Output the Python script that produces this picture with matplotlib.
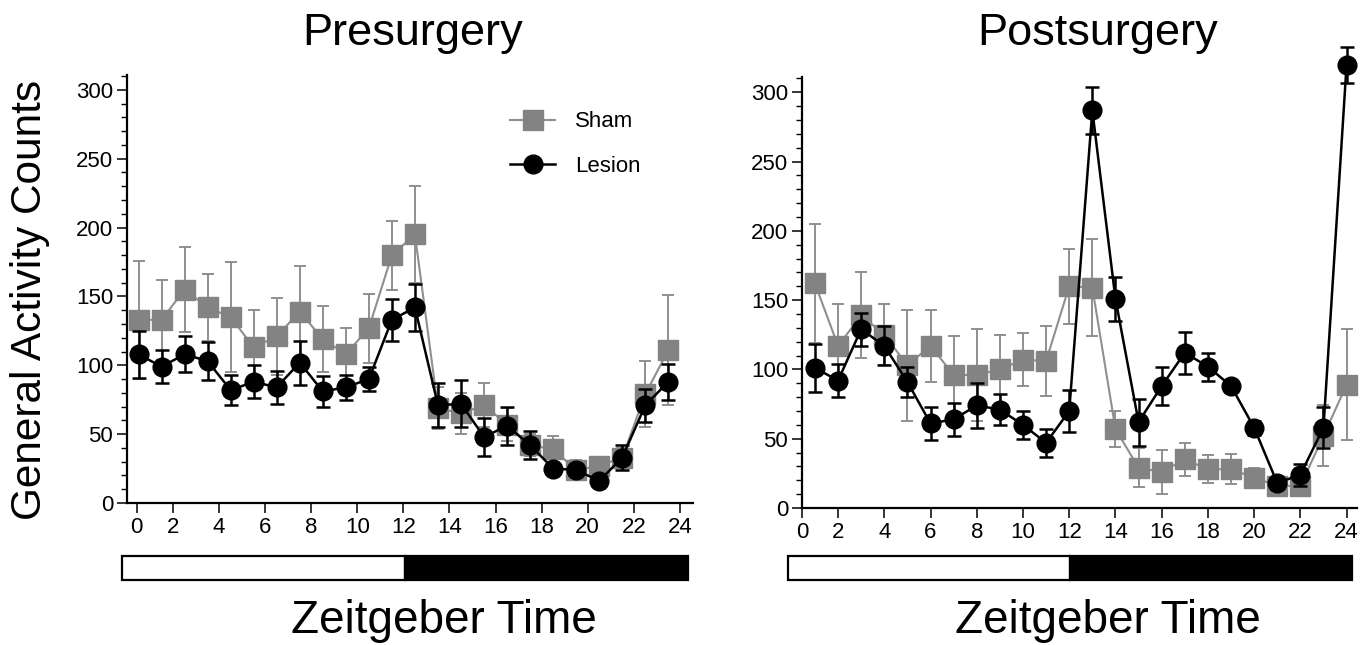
import numpy as np
import matplotlib
matplotlib.use('Agg')
import matplotlib.pyplot as plt
from matplotlib.ticker import MultipleLocator

plt.rcParams['font.family'] = ['Liberation Sans', 'DejaVu Sans']

# hours of recording (pre: half-hour bins centred, post: whole hours)
pre_hours = np.arange(24) + 0.5
post_hours = np.arange(1, 25)

pre_sham = [133, 133, 155, 142, 135, 113, 121, 139, 119, 108, 127, 180,
            195, 69, 65, 71, 57, 42, 39, 24, 27, 33, 79, 111]
pre_sham_err = [43, 29, 31, 24, 40, 27, 28, 33, 24, 19, 25, 25,
                35, 15, 15, 16, 12, 8, 10, 7, 5, 7, 24, 40]
pre_lesion = [108, 99, 108, 103, 82, 88, 84, 102, 81, 84, 90, 133,
              142, 71, 72, 48, 56, 42, 25, 24, 16, 33, 71, 88]
pre_lesion_err = [17, 12, 13, 14, 11, 12, 12, 16, 11, 9, 9, 15,
                  17, 16, 17, 14, 14, 10, 3, 4, 3, 9, 12, 13]

post_sham = [162, 117, 139, 125, 103, 117, 96, 96, 100, 107, 106, 160,
             159, 57, 29, 26, 35, 28, 28, 22, 16, 16, 52, 89]
post_sham_err = [43, 30, 31, 22, 40, 26, 28, 33, 25, 19, 25, 27,
                 35, 13, 14, 16, 12, 10, 11, 7, 4, 6, 22, 40]
post_lesion = [101, 92, 129, 117, 91, 61, 64, 74, 71, 60, 47, 70,
               287, 151, 62, 88, 112, 102, 88, 58, 18, 24, 58, 320]
post_lesion_err = [17, 12, 12, 14, 11, 12, 12, 16, 11, 10, 10, 15,
                   17, 16, 17, 14, 15, 10, 4, 5, 3, 8, 15, 13]

tick_hours = [0, 2, 4, 6, 8, 10, 12, 14, 16, 18, 20, 22, 24]
phase_start = [0, 12]
phase_color = ['white', 'black']

W, H = 1369, 645
fig = plt.figure(figsize=(W / 100, H / 100), dpi=100)

GRAY = '#838383'
GRAY_L = '#8f8f8f'


def px(x0, y0, x1, y1):
    return [x0 / W, 1 - y1 / H, (x1 - x0) / W, (y1 - y0) / H]


def unclip(container):
    for art in container.get_children():
        art.set_clip_on(False)


def panel(rect, hours, sham, sham_err, lesion, lesion_err, xlim, zero_pos, ylim):
    ax = fig.add_axes(rect)
    eb_s = ax.errorbar(hours, sham, yerr=sham_err, color=GRAY_L, ecolor=GRAY_L, lw=1.5,
                       elinewidth=1.4, capsize=4, capthick=1.4, marker='s', ms=14,
                       mfc=GRAY, mec=GRAY, label='Sham', zorder=2)
    eb_l = ax.errorbar(hours, lesion, yerr=lesion_err, color='black', ecolor='black', lw=1.8,
                       elinewidth=1.8, capsize=5, capthick=1.8, marker='o', ms=13.5,
                       mfc='black', mec='black', label='Lesion', zorder=3)
    unclip(eb_s)
    unclip(eb_l)
    ax.set_xlim(*xlim)
    ax.set_ylim(*ylim)
    pos = [zero_pos] + tick_hours[1:]
    ax.set_xticks(pos)
    ax.set_xticklabels([str(h) for h in tick_hours])
    ax.yaxis.set_major_locator(MultipleLocator(50))
    ax.yaxis.set_minor_locator(MultipleLocator(10))
    for s in ['top', 'right']:
        ax.spines[s].set_visible(False)
    for s in ['left', 'bottom']:
        ax.spines[s].set_linewidth(1.6)
    ax.tick_params(axis='both', which='major', length=7, width=1.1, labelsize=16, pad=3)
    ax.tick_params(axis='y', which='minor', length=4, width=1.0)
    return ax, eb_s, eb_l


ax1, s1, l1 = panel(px(127, 75, 692.5, 503), pre_hours, pre_sham, pre_sham_err,
                    pre_lesion, pre_lesion_err, (0, 24.55), 0.42, (0, 310.8))
ax2, s2, l2 = panel(px(802, 77, 1357, 508), post_hours, post_sham, post_sham_err,
                    post_lesion, post_lesion_err, (0.44, 24.45), 0.44, (0, 311))

ax1.legend(handles=[s1[0], l1[0]], labels=['Sham', 'Lesion'], loc='upper left',
           bbox_to_anchor=(0.678, 0.915), frameon=False,
           fontsize=16, handlelength=2.0, handletextpad=0.9, labelspacing=1.05,
           borderpad=0, borderaxespad=0)

# light / dark bars
for rect in [px(122, 556, 688, 580), px(788, 556, 1352, 580)]:
    bx = fig.add_axes(rect)
    bx.bar(phase_start, 1, width=12, align='edge', color=phase_color,
           edgecolor='black', linewidth=1.6, clip_on=False)
    bx.set_xlim(0, 24)
    bx.set_ylim(0, 1)
    bx.axis('off')

fig.text(413 / W, 1 - 45 / H, 'Presurgery', ha='center', va='baseline', fontsize=32.5)
fig.text(1098 / W, 1 - 45 / H, 'Postsurgery', ha='center', va='baseline', fontsize=32.5)
fig.text(444 / W, 1 - 633 / H, 'Zeitgeber Time', ha='center', va='baseline', fontsize=33)
fig.text(1108 / W, 1 - 633 / H, 'Zeitgeber Time', ha='center', va='baseline', fontsize=33)
fig.text(30 / W, 1 - 300 / H, 'General Activity Counts', ha='center', va='center',
         rotation=90, fontsize=30.5)

fig.savefig('out.png', dpi=100)
